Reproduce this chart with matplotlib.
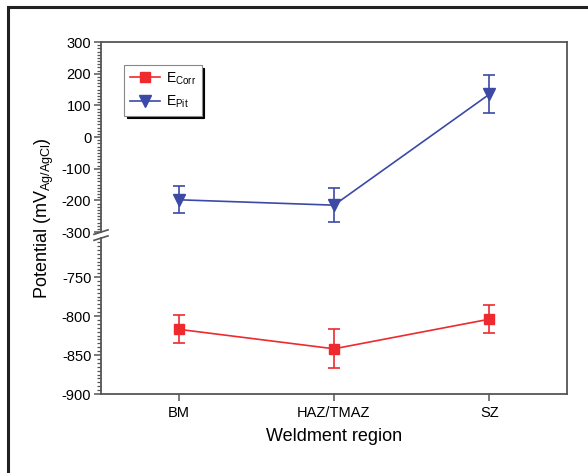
import numpy as np
import matplotlib.pyplot as plt
from matplotlib.ticker import FixedLocator
from matplotlib.patches import Rectangle
from matplotlib.lines import Line2D

plt.rcParams['font.family'] = ['Liberation Sans', 'DejaVu Sans']
plt.rcParams['mathtext.fontset'] = 'custom'
plt.rcParams['mathtext.rm'] = 'Liberation Sans'

regions = ['BM', 'HAZ/TMAZ', 'SZ']
e_corr = [-817, -842, -804]
e_corr_err = [18, 25, 18]
e_pit = [-198, -215, 135]
e_pit_err = [42, 53, 60]

red = '#ee2a2e'
blue = '#3c4aa6'
grey = '#555555'

# broken y axis: -300..300 on top, -900..-700 below, squeezed together
gap = 19.0
k = 2.46


def fwd(y):
    y = np.asarray(y, dtype=float)
    low = -300 - gap + (y + 700) * k
    mid = -300 - gap * (-300 - y) / 400.0
    return np.where(y >= -300, y, np.where(y <= -700, low, mid))


def inv(v):
    v = np.asarray(v, dtype=float)
    low = (v + 300 + gap) / k - 700
    mid = -300 - (-300 - v) * 400.0 / gap
    return np.where(v >= -300, v, np.where(v <= -300 - gap, low, mid))


fig = plt.figure(figsize=(5.88, 4.73), dpi=100)
W, H = 588, 473
ax = fig.add_axes([101 / W, 1 - 394 / H, (567 - 101) / W, (394 - 42) / H])
ax.set_yscale('function', functions=(fwd, inv))
x = np.arange(1, len(regions) + 1)

ax.errorbar(x, e_corr, yerr=e_corr_err, color=red, marker='s', ms=7,
            lw=1.2, capsize=4, elinewidth=1.2, capthick=1.2)
ax.errorbar(x, e_pit, yerr=e_pit_err, color=blue, marker='v', ms=8,
            lw=1.2, capsize=4, elinewidth=1.2, capthick=1.2)

ax.set_xlim(0.5, 3.5)
ax.set_ylim(-900, 300)
ax.set_xticks(x)
ax.set_xticklabels(regions)
major = [-900, -850, -800, -750, -300, -200, -100, 0, 100, 200, 300]
ax.yaxis.set_major_locator(FixedLocator(major))
minor = list(np.arange(-900, -700, 5)) + list(np.arange(-300, 301, 10))
ax.yaxis.set_minor_locator(FixedLocator(minor))
ax.set_yticklabels([str(m) for m in major])
ax.tick_params(axis='y', which='major', direction='out', length=5, width=1.1,
               labelsize=10.5, pad=2, color=grey)
ax.tick_params(axis='y', which='minor', direction='out', length=3, width=0.9,
               color=grey)
ax.tick_params(axis='x', direction='out', length=5, width=1.1, labelsize=10.5,
               color=grey)
for s in ax.spines.values():
    s.set_color(grey)
    s.set_linewidth(1.3)

ax.set_ylabel('Potential (mV$_{\\mathrm{Ag/AgCl}}$)', fontsize=13, labelpad=4)
ax.set_xlabel('Weldment region', fontsize=13, labelpad=6)

# axis break marks on the left spine
ax.spines['left'].set_visible(False)
trans = ax.get_yaxis_transform()
ax.add_line(Line2D([0, 0], [-300, 300], transform=trans, color=grey, lw=1.3,
                   clip_on=False))
ax.add_line(Line2D([0, 0], [-900, -700], transform=trans, color=grey, lw=1.3,
                   clip_on=False))
for yy in (-300, -700):
    ax.add_line(Line2D([-0.015, 0.015], [inv(fwd(yy) - 7), inv(fwd(yy) + 7)],
                       transform=trans, color=grey, lw=1.2, clip_on=False))

handles = [Line2D([], [], color=red, marker='s', ms=7, lw=1.2),
           Line2D([], [], color=blue, marker='v', ms=8, lw=1.2)]
labels = ['E$_{\\mathrm{Corr}}$', 'E$_{\\mathrm{Pit}}$']
leg = ax.legend(handles, labels, loc='upper left', bbox_to_anchor=(0.035, 0.955),
                fontsize=10, frameon=True, fancybox=False,
                shadow={'color': 'black', 'alpha': 1},
                handlelength=2.2, borderpad=0.4, labelspacing=0.5, handletextpad=0.4)
leg.get_frame().set_edgecolor('#888888')
leg.get_frame().set_linewidth(0.8)

# outer frame around the figure
fig.patches.append(Rectangle((8 / W, -0.1), 1.2, 1 - 7 / H + 0.1, transform=fig.transFigure,
                             fill=False, edgecolor='#222222', lw=2.2))

fig.savefig('out.png', dpi=100)
